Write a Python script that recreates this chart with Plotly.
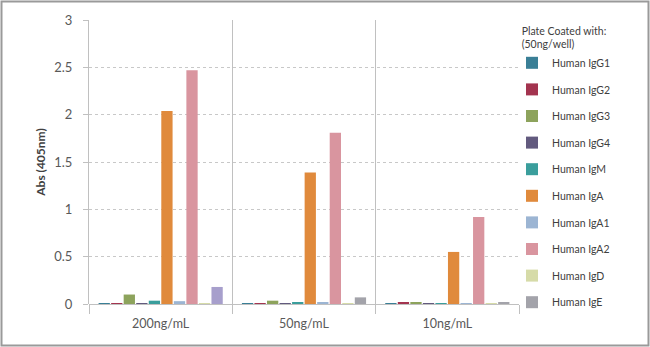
import plotly.graph_objects as go

categories = ["200ng/mL", "50ng/mL", "10ng/mL"]
series_names = ["Human IgG1", "Human IgG2", "Human IgG3", "Human IgG4", "Human IgM",
                "Human IgA", "Human IgA1", "Human IgA2", "Human IgD", "Human IgE"]
igg1 = [0.01, 0.005, 0.008]
igg2 = [0.008, 0.005, 0.012]
igg3 = [0.10, 0.035, 0.012]
igg4 = [0.008, 0.005, 0.008]
igm = [0.035, 0.015, 0.006]
iga = [2.04, 1.39, 0.55]
iga1 = [0.03, 0.012, 0.006]
iga2 = [2.47, 1.81, 0.92]
igd = [0.005, 0.005, 0.005]
ige = [0.18, 0.07, 0.02]
values = [igg1, igg2, igg3, igg4, igm, iga, iga1, iga2, igd, ige]
colors = ["#3a7f96", "#a3344f", "#8da35c", "#625a7e", "#3a9e9c",
          "#e08a3c", "#9cb5d3", "#d9959f", "#d6dba8", ["#a79fcc", "#a3a3aa", "#a3a3aa"]]
legend_colors = ["#3a7f96", "#a3344f", "#8da35c", "#625a7e", "#3a9e9c",
                 "#e08a3c", "#9cb5d3", "#d9959f", "#d6dba8", "#a3a3aa"]

fig = go.Figure()
for i, (name, vals, col) in enumerate(zip(series_names, values, colors)):
    fig.add_trace(go.Bar(x=categories, y=vals, name=name, marker_color=col,
                         marker_line_width=0, legendgroup=str(i), showlegend=False))
    # legend swatch (drawn on a hidden overlay axis so it takes no bar slot)
    fig.add_trace(go.Bar(x=[None], y=[None], name=name, marker_color=legend_colors[i],
                         marker_line_width=0, legendgroup=str(i), showlegend=True,
                         xaxis="x2"))

W, H = 650, 347
L, R, T, B = 89, 131, 20, 43
pw, ph = W - L - R, H - T - B

fig.update_layout(
    width=W, height=H,
    margin=dict(l=L, r=R, t=T, b=B, pad=0),
    paper_bgcolor="white", plot_bgcolor="white",
    font=dict(family="Lato, Open Sans, sans-serif", color="#595959", size=12),
    barmode="group", bargap=0.125, bargroupgap=0.1,
    showlegend=True,
    legend=dict(x=(512 - L) / pw, xanchor="left", y=1 + (T - 21) / ph, yanchor="top",
                font=dict(size=10.5, color="#404040"),
                title=dict(text="Plate Coated with:<br>(50ng/well)", side="top center",
                           font=dict(size=10.5, color="#404040")),
                tracegroupgap=7.6, itemwidth=30, bgcolor="rgba(0,0,0,0)",
                maxheight=345),
    xaxis=dict(showgrid=True, gridcolor="#c0c0c0", gridwidth=1, tickson="boundaries",
               ticks="outside", ticklen=9, tickcolor="#c0c0c0", showline=False,
               ticklabelstandoff=10,
               tickfont=dict(size=12.5, color="#595959"), zeroline=False),
    xaxis2=dict(overlaying="x", visible=False),
    yaxis=dict(range=[0, 3], dtick=0.5, showgrid=True, gridcolor="#c8c8c8",
               griddash="dot", ticks="outside", ticklen=5, tickcolor="#c0c0c0",
               showline=True, linecolor="#c0c0c0", linewidth=1,
               zeroline=True, zerolinecolor="#c0c0c0", zerolinewidth=1,
               ticklabelstandoff=8,
               tickfont=dict(size=13, color="#595959"),
               title=dict(text="<b>Abs (405nm)</b>", font=dict(size=12, color="#404040"),
                          standoff=6)),
    shapes=[dict(type="rect", xref="paper", yref="paper",
                 x0=-L / pw + 1.5 / pw, x1=1 + R / pw - 1.5 / pw,
                 y0=-B / ph + 1.5 / ph, y1=1 + T / ph - 1.5 / ph,
                 line=dict(color="#9a9a9a", width=2))],
)

fig.write_html("out.html")
